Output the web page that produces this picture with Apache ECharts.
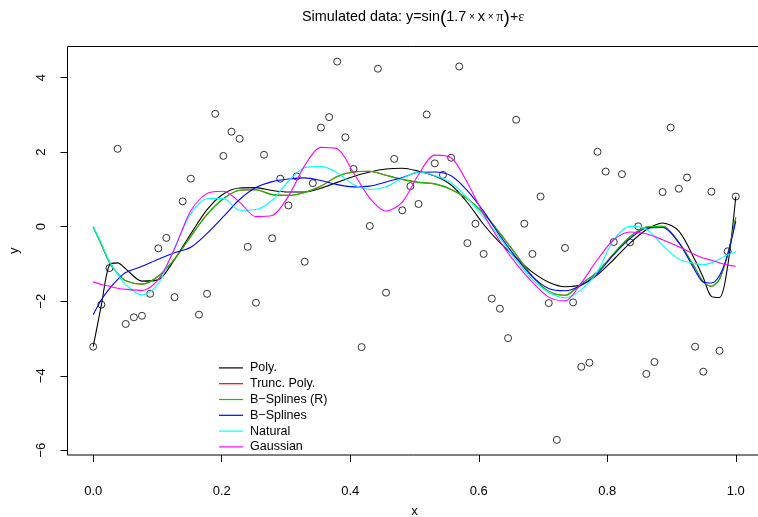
<!DOCTYPE html>
<html>
<head>
<meta charset="utf-8">
<script src="https://cdn.jsdelivr.net/npm/echarts@6/dist/echarts.min.js"></script>
<style>
  html, body { margin: 0; padding: 0; background: #fff; }
  #chart { width: 758px; height: 517px; }
</style>
</head>
<body>
<div id="chart"></div>
<script>
// observed points
const obsX = [0, 0.0127, 0.0253, 0.038, 0.0506, 0.0633, 0.0759, 0.0886, 0.1013, 0.1139,
  0.1266, 0.1392, 0.1519, 0.1646, 0.1772, 0.1899, 0.2025, 0.2152, 0.2278, 0.2405,
  0.2532, 0.2658, 0.2785, 0.2911, 0.3038, 0.3165, 0.3291, 0.3418, 0.3544, 0.3671,
  0.3797, 0.3924, 0.4051, 0.4177, 0.4304, 0.443, 0.4557, 0.4684, 0.481, 0.4937,
  0.5063, 0.519, 0.5316, 0.5443, 0.557, 0.5696, 0.5823, 0.5949, 0.6076, 0.6203,
  0.6329, 0.6456, 0.6582, 0.6709, 0.6835, 0.6962, 0.7089, 0.7215, 0.7342, 0.7468,
  0.7595, 0.7722, 0.7848, 0.7975, 0.8101, 0.8228, 0.8354, 0.8481, 0.8608, 0.8734,
  0.8861, 0.8987, 0.9114, 0.9241, 0.9367, 0.9494, 0.962, 0.9747, 0.9873, 1];
const obsY = [-3.22, -2.09, -1.11, 2.09, -2.61, -2.43, -2.39, -1.8, -0.58, -0.3,
  -1.89, 0.68, 1.29, -2.36, -1.8, 3.03, 1.9, 2.55, 2.36, -0.54,
  -2.04, 1.93, -0.31, 1.29, 0.57, 1.35, -0.94, 1.17, 2.66, 2.94,
  4.43, 2.4, 1.55, -3.23, 0.02, 4.24, -1.77, 1.82, 0.44, 1.09,
  0.61, 3.01, 1.7, 1.39, 1.85, 4.3, -0.44, 0.08, -0.73, -1.93,
  -2.2, -2.99, 2.87, 0.08, -0.73, 0.81, -2.05, -5.72, -0.57, -2.03,
  -3.76, -3.65, 2.01, 1.48, -0.41, 1.41, -0.42, 0.01, -3.95, -3.63,
  0.93, 2.66, 1.02, 1.32, -3.22, -3.89, 0.94, -3.33, -0.66, 0.81];

// fitted curves, read at a subset of the x values
const fitX = [0, 0.0127, 0.0253, 0.038, 0.0506, 0.0759, 0.1013, 0.1266, 0.1519, 0.1772,
  0.2025, 0.2278, 0.2532, 0.2785, 0.3038, 0.3291, 0.3544, 0.3797, 0.4051, 0.4304,
  0.4557, 0.481, 0.5063, 0.5316, 0.557, 0.5823, 0.6076, 0.6329, 0.6582, 0.6835,
  0.7089, 0.7342, 0.7595, 0.7848, 0.8101, 0.8354, 0.8608, 0.8861, 0.9114, 0.9367,
  0.9494, 0.962, 0.9747, 0.9873, 1];
const polyFit = [-3.22, -2.1, -1.02, -0.97, -1.13, -1.46, -1.42, -0.88, -0.19, 0.46,
  0.88, 1.04, 1.05, 0.97, 0.93, 0.93, 1.03, 1.19, 1.35, 1.47,
  1.55, 1.57, 1.49, 1.36, 1.12, 0.65, 0.06, -0.43, -0.84, -1.22,
  -1.49, -1.61, -1.56, -1.29, -0.88, -0.44, -0.08, 0.1, -0.12, -0.9,
  -1.37, -1.87, -1.9, -1.06, 0.81];
const splineRFit = [0, -0.48, -0.96, -1.26, -1.45, -1.54, -1.33, -0.87, -0.26, 0.33,
  0.75, 0.98, 0.99, 0.86, 0.84, 0.92, 1.09, 1.35, 1.47, 1.49,
  1.38, 1.27, 1.19, 1.15, 1.0, 0.75, 0.35, -0.17, -0.75, -1.33,
  -1.74, -1.84, -1.53, -1.21, -0.72, -0.27, -0.01, 0.01, -0.42, -1.11,
  -1.48, -1.6, -1.4, -0.75, 0.25];
const truncPolyFit = splineRFit; // red curve sits right under the green one
const splineFit = [-2.36, -1.96, -1.66, -1.42, -1.23, -1.06, -0.87, -0.7, -0.55, -0.18,
  0.27, 0.73, 1.05, 1.21, 1.28, 1.31, 1.24, 1.13, 1.07, 1.09,
  1.2, 1.32, 1.46, 1.47, 1.37, 0.97, 0.41, -0.24, -0.83, -1.34,
  -1.66, -1.72, -1.57, -1.25, -0.75, -0.32, -0.04, -0.02, -0.43, -1.18,
  -1.49, -1.51, -1.31, -0.75, 0.15];
const naturalFit = [0.01, -0.44, -0.93, -1.26, -1.56, -1.83, -1.53, -0.57, 0.35, 0.75,
  0.76, 0.44, 0.46, 0.71, 1.22, 1.58, 1.62, 1.45, 1.13, 1.0,
  1.07, 1.3, 1.46, 1.37, 1.18, 0.77, 0.26, -0.3, -0.9, -1.42,
  -1.76, -1.91, -1.69, -1.2, -0.35, 0.01, -0.06, -0.5, -0.87, -0.99,
  -1.02, -0.97, -0.87, -0.75, -0.67];
const gaussFit = [-1.48, -1.55, -1.6, -1.65, -1.68, -1.71, -1.42, -0.59, 0.43, 0.89,
  0.95, 0.66, 0.27, 0.3, 0.82, 1.64, 2.13, 2.09, 1.45, 0.77,
  0.42, 0.66, 1.4, 1.92, 1.85, 1.18, 0.33, -0.39, -0.99, -1.49,
  -1.89, -1.99, -1.51, -0.88, -0.35, -0.14, -0.19, -0.35, -0.54, -0.75,
  -0.84, -0.9, -0.97, -1.03, -1.06];

const fitNames = ['Poly.', 'Trunc. Poly.', 'B\u2212Splines (R)', 'B\u2212Splines', 'Natural', 'Gaussian'];
const fitColors = ['#000000', '#ff0000', '#00cd00', '#0000ff', '#00ffff', '#ff00ff'];
const fitValues = [polyFit, truncPolyFit, splineRFit, splineFit, naturalFit, gaussFit];

const xTicks = [0, 0.2, 0.4, 0.6, 0.8, 1];
const yTicks = [-6, -4, -2, 0, 2, 4];

function pairs(xs, ys) {
  return xs.map((x, i) => [x, ys[i]]);
}
// like R: pad the data range by 4% on each side
function padRange(vals) {
  const lo = Math.min(...vals), hi = Math.max(...vals), r = hi - lo;
  return [lo - 0.04 * r, hi + 0.04 * r];
}
const xr = padRange(obsX);
const yr = padRange(obsY);

const font = 'Liberation Sans, Arial, Helvetica, sans-serif';
const chart = echarts.init(document.getElementById('chart'));

const lineSeries = fitNames.map((name, k) => ({
  name: name,
  type: 'line',
  data: pairs(fitX, fitValues[k]),
  symbol: 'none',
  smooth: 0.3,
  clip: false,
  z: 3 + k,
  lineStyle: { width: 1.1, color: fitColors[k] },
  itemStyle: { color: fitColors[k] },
  emphasis: { disabled: true }
}));

chart.setOption({
  backgroundColor: '#fff',
  animation: false,
  title: {
    text: '{n|Simulated data: y=sin}{p|(}{n|1.7}{s| \u00d7 }{n|x}{s| \u00d7 }{g|\u03c0}{p|)}{n|+}{g|\u03b5}',
    left: 297,
    top: 3,
    textStyle: {
      fontWeight: 'normal',
      rich: {
        n: { fontFamily: font, fontSize: 14.4, fontWeight: 'normal', color: '#000' },
        p: { fontFamily: font, fontSize: 19, fontWeight: 'normal', color: '#000' },
        s: { fontFamily: font, fontSize: 10, fontWeight: 'normal', color: '#000' },
        g: { fontFamily: 'Liberation Serif, serif', fontSize: 14.4, fontWeight: 'normal', color: '#000' }
      }
    }
  },
  legend: {
    orient: 'vertical',
    left: 214,
    top: 355,
    data: fitNames,
    icon: 'rect',
    itemWidth: 24,
    itemHeight: 1.2,
    itemGap: 0,
    selectedMode: false,
    textStyle: { fontFamily: font, fontSize: 12.5, color: '#000', lineHeight: 15.8, padding: [0, 0, 0, 2] }
  },
  grid: {
    left: 67.5,
    top: 46.5,
    width: 694,
    height: 408.5,
    outerBoundsMode: 'none',
    show: true,
    borderColor: '#000',
    borderWidth: 1,
    backgroundColor: 'transparent'
  },
  xAxis: {
    type: 'value',
    min: xr[0],
    max: xr[1],
    name: 'x',
    nameLocation: 'middle',
    nameGap: 50,
    nameTextStyle: { fontFamily: font, fontSize: 13, color: '#000' },
    axisLine: { show: false, onZero: false },
    splitLine: { show: false },
    axisTick: { show: true, length: 7, lineStyle: { color: '#000' }, customValues: xTicks },
    axisLabel: {
      fontFamily: font, fontSize: 13, color: '#000', margin: 30,
      customValues: xTicks,
      formatter: v => v.toFixed(1)
    }
  },
  yAxis: {
    type: 'value',
    min: yr[0],
    max: yr[1],
    name: 'y',
    nameLocation: 'middle',
    nameGap: 47,
    nameRotate: 90,
    nameTextStyle: { fontFamily: font, fontSize: 13, color: '#000' },
    axisLine: { show: false, onZero: false },
    splitLine: { show: false },
    axisTick: { show: true, length: 7, lineStyle: { color: '#000' }, customValues: yTicks },
    axisLabel: {
      fontFamily: font, fontSize: 13, color: '#000', margin: 20, rotate: 90,
      customValues: yTicks,
      formatter: v => (v < 0 ? '\u2212' + Math.abs(v) : String(v))
    }
  },
  series: [{
    name: 'data',
    type: 'scatter',
    data: pairs(obsX, obsY),
    symbol: 'circle',
    symbolSize: 7,
    clip: false,
    z: 2,
    itemStyle: { color: 'rgba(0,0,0,0)', borderColor: '#000', borderWidth: 1 },
    emphasis: { disabled: true }
  }].concat(lineSeries)
});
</script>
</body>
</html>
